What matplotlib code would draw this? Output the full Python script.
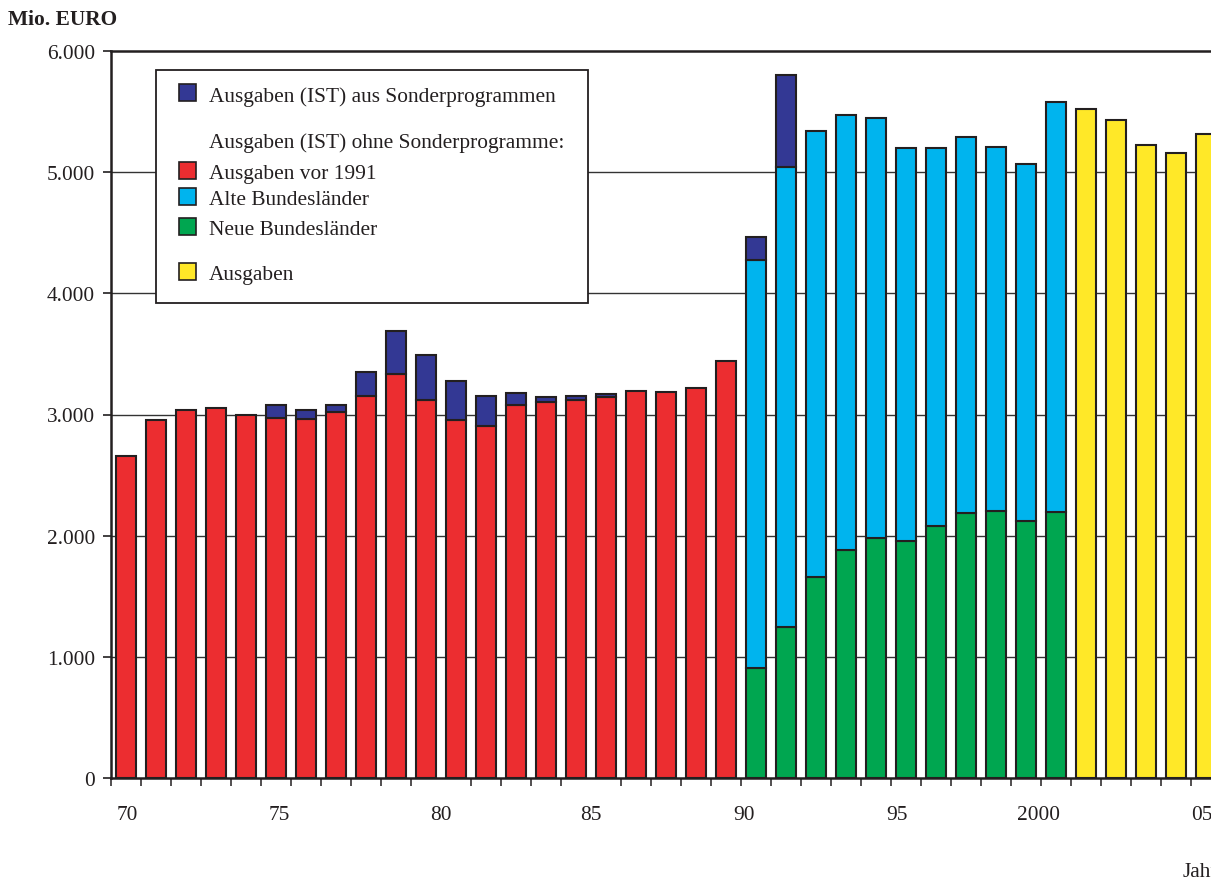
import matplotlib
matplotlib.use("Agg")
import matplotlib.pyplot as plt
from matplotlib.patches import Rectangle
from matplotlib.ticker import FuncFormatter

# ---------------- data ----------------
years = list(range(1970, 2007))

vor1991_years = list(range(1970, 1991))
vor1991 = [2655, 2952, 3037, 3051, 2996, 2973, 2960, 3023, 3155, 3335,
           3120, 2955, 2908, 3081, 3100, 3122, 3144, 3194, 3188, 3216, 3439]

sonder_years = [1975, 1976, 1977, 1978, 1979, 1980, 1981, 1982, 1983, 1984,
                1985, 1986, 1991, 1992]
sonder = [105, 80, 55, 198, 354, 374, 321, 245, 99, 44, 28, 25, 192, 764]

laender_years = list(range(1991, 2002))
neue = [908, 1246, 1656, 1882, 1981, 1959, 2080, 2187, 2201, 2119, 2195]
alte = [3367, 3794, 3681, 3590, 3468, 3240, 3119, 3106, 3004, 2951, 3386]

plan_years = list(range(2002, 2007))
plan = [5524, 5433, 5222, 5158, 5315]

tick_labels = ["70", "75", "80", "85", "90", "95", "2000", "05"]
yticks = [0, 1000, 2000, 3000, 4000, 5000, 6000]

legend_entries = ["Ausgaben (IST) aus Sonderprogrammen",
                  "Ausgaben (IST) ohne Sonderprogramme:",
                  "Ausgaben vor 1991",
                  "Alte Bundesländer",
                  "Neue Bundesländer",
                  "Ausgaben"]

# ---------------- style ----------------
W, H = 1211, 879
plt.rcParams["font.family"] = ["Liberation Serif", "DejaVu Serif"]
FS = 15.4
C_SONDER = "#333894"
C_RED = "#EC2D30"
C_ALTE = "#00B4EE"
C_NEUE = "#00A650"
C_PLAN = "#FFE828"
EDGE = "#231F20"
BW = 0.68
LW = 1.5

fig = plt.figure(figsize=(W / 100, H / 100), dpi=100)
ax = fig.add_axes([111 / W, 100 / H, 1110 / W, 727 / H])

idx = {y: i for i, y in enumerate(years)}

def bars(yrs, vals, bottoms, color):
    ax.bar([idx[y] for y in yrs], vals, bottom=bottoms, width=BW,
           color=color, edgecolor=EDGE, linewidth=LW, zorder=3)

# red era
bars(vor1991_years, vor1991, [0] * len(vor1991), C_RED)
# new states / old states
bars(laender_years, neue, [0] * len(neue), C_NEUE)
bars(laender_years, alte, neue, C_ALTE)
# planned
bars(plan_years, plan, [0] * len(plan), C_PLAN)
# special programmes on top
base = {}
for y, v in zip(vor1991_years, vor1991):
    base[y] = v
for y, n, a in zip(laender_years, neue, alte):
    base[y] = n + a
bars(sonder_years, sonder, [base[y] for y in sonder_years], C_SONDER)

ax.set_xlim(-0.5, len(years) - 0.5)
ax.set_ylim(0, 6000)

# grid
for v in yticks[1:-1]:
    ax.axhline(v, color="#333333", lw=1.0, zorder=1)

# y axis
ax.set_yticks(yticks)
ax.yaxis.set_major_formatter(FuncFormatter(lambda v, p: f"{int(v):,}".replace(",", ".")))
ax.tick_params(axis="y", direction="out", length=6, width=1.2, pad=5.5,
               labelsize=FS, colors="#231F20")

# x axis: tick marks at category boundaries, labels at reference positions
ax.set_xticks([i - 0.5 for i in range(len(years) + 1)], minor=True)
ax.set_xticks([0.03, 5.1, 10.5, 15.5, 20.6, 25.7, 30.4, 35.85])
ax.set_xticklabels(tick_labels)
ax.tick_params(axis="x", which="major", length=0, pad=19.5, labelsize=FS,
               colors="#231F20")
ax.tick_params(axis="x", which="minor", direction="out", length=6, width=1.1,
               colors="#231F20")

for s in ["left", "top", "bottom", "right"]:
    ax.spines[s].set_color("#231F20")
    ax.spines[s].set_linewidth(1.8)

# titles
fig.text(8 / W, 1 - 20 / H, "Mio. EURO", fontsize=FS, fontweight="bold",
         va="center", ha="left", color="#231F20")
fig.text(1183 / W, 1 - 873 / H, "Jahr", fontsize=FS, va="center", ha="left",
         color="#231F20")

# legend (manual)
def fx(x):
    return x / W

def fy(y):
    return 1 - y / H

box = Rectangle((fx(156), fy(304)), (588 - 156) / W, (304 - 71) / H,
                transform=fig.transFigure, facecolor="white",
                edgecolor="#231F20", linewidth=1.3, zorder=5)
fig.add_artist(box)

leg_colors = [C_SONDER, None, C_RED, C_ALTE, C_NEUE, C_PLAN]
leg_base = [102, 148, 179, 205, 235, 280]
leg_patch_top = [85, None, 163, 189, 219, 264]
for label, col, bl, pt in zip(legend_entries, leg_colors, leg_base, leg_patch_top):
    if col is not None:
        r = Rectangle((fx(179), fy(pt + 17)), 17 / W, 17 / H,
                      transform=fig.transFigure, facecolor=col,
                      edgecolor="#231F20", linewidth=1.2, zorder=6)
        fig.add_artist(r)
    fig.text(fx(209), fy(bl), label, fontsize=FS, va="baseline", ha="left",
             color="#231F20", zorder=7)

fig.savefig("out.png", dpi=100)
